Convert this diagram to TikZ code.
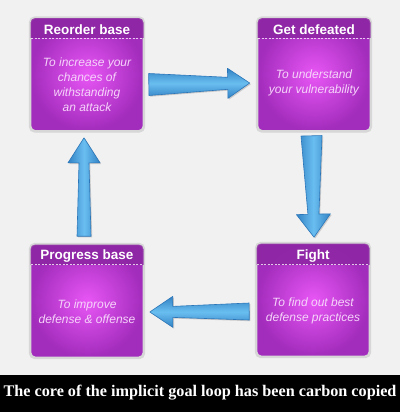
\documentclass[tikz,border=0pt]{standalone}
\usepackage{fontspec}
\setmainfont{Liberation Sans}
\newfontfamily\capfont{Liberation Serif}
\usetikzlibrary{calc,shadows}
\definecolor{bg}{RGB}{241,241,241}
\definecolor{boxin}{RGB}{232,86,245}
\definecolor{boxout}{RGB}{162,44,188}
\definecolor{hdr}{RGB}{140,38,162}
\definecolor{boxline}{RGB}{215,215,215}
\definecolor{bodytxt}{RGB}{246,212,250}
\definecolor{arrlight}{RGB}{105,190,240}
\definecolor{arrmid}{RGB}{70,158,222}
\definecolor{arrdark}{RGB}{42,118,185}
\tikzset{
  box/.style={rectangle, rounded corners=5pt, minimum width=113pt, minimum height=113pt,
    inner color=boxin, outer color=boxout, draw=boxline, line width=1.6pt,
    drop shadow={opacity=0.35, shadow xshift=1.2pt, shadow yshift=-1.2pt}},
  boxtitle/.style={text=white, font=\fontsize{13.5}{15}\selectfont\bfseries, inner sep=0pt},
  boxbody/.style={text=bodytxt, font=\fontsize{12}{15}\selectfont\itshape, align=center, inner sep=0pt},
  sep/.style={draw=white, opacity=0.75, dash pattern=on 2pt off 1.5pt, line width=0.6pt},
  fatarr/.style={draw=arrdark, line width=0.6pt, line join=round,
    drop shadow={opacity=0.35, shadow xshift=1.2pt, shadow yshift=-1.2pt}},
}
% #1 tail, #2 tip, #3 tail half width, #4 neck half width, #5 head half width, #6 head length, #7 shading angle
\newcommand\fatarrow[7]{%
  \coordinate (nk) at ($(#2)!#6!(#1)$);
  \path[fatarr, top color=arrdark!70!arrmid, bottom color=arrdark!70!arrmid, middle color=arrlight, shading angle=#7]
    ($(#1)!#3!90:(#2)$) -- ($(nk)!#4!-90:(#1)$) -- ($(nk)!#5!-90:(#1)$) -- (#2)
    -- ($(nk)!#5!90:(#1)$) -- ($(nk)!#4!90:(#1)$) -- ($(#1)!#3!-90:(#2)$) -- cycle;
}
\newcommand\boxdeco[2]{%
  \begin{scope}
    \clip[rounded corners=5pt] (#1.south west) rectangle (#1.north east);
    \fill[hdr, opacity=0.85] (#1.north west) rectangle ($(#1.north east)+(0,#2)$);
  \end{scope}
  \draw[sep] ($(#1.north west)+(1.5,#2)$) -- ($(#1.north east)+(-1.5,#2)$);
  \draw[boxline, line width=1.6pt, rounded corners=5pt] (#1.south west) rectangle (#1.north east);
}
\begin{document}
\begin{tikzpicture}[x=1pt,y=-1pt]
\useasboundingbox (0,0) rectangle (400,412);
\fill[bg] (0,0) rectangle (400,412);
% boxes
\node[box] (b1) at (87,74.5) {};
\node[box] (b2) at (314,74.5) {};
\node[box] (b3) at (87,301) {};
\node[box] (b4) at (313,300) {};
\boxdeco{b1}{21}
\boxdeco{b2}{21}
\boxdeco{b3}{21}
\boxdeco{b4}{22}
% titles
\node[boxtitle] (t1) at ($(b1.north)+(0,12.5)$) {Reorder base};
\node[boxtitle] (t2) at ($(b2.north)+(0,12.5)$) {Get defeated};
\node[boxtitle] (t3) at ($(b3.north)+(0,12)$) {Progress base};
\node[boxtitle] (t4) at ($(b4.north)+(0,13.5)$) {Fight};
% bodies
\node[boxbody] (d1) at ($(b1.center)+(0,10.5)$) {To increase your\\chances of\\withstanding\\an attack};
\node[boxbody] (d2) at ($(b2.center)+(0,8.5)$) {To understand\\your vulnerability};
\node[boxbody] (d3) at ($(b3.center)+(0,11)$) {To improve\\defense \& offense};
\node[boxbody] (d4) at ($(b4.center)+(0,11)$) {To find out best\\defense practices};
% arrows
\coordinate (a1t) at ($(b1.east)+(4.5,10)$);
\coordinate (a1h) at ($(b2.west)+(-7,8.5)$);
\fatarrow{a1t}{a1h}{11pt}{6pt}{15pt}{22pt}{0}
\coordinate (a2t) at ($(b2.south)+(-2.5,4)$);
\coordinate (a2h) at ($(b4.north)+(1,-5.5)$);
\fatarrow{a2t}{a2h}{10.5pt}{5.5pt}{17pt}{23pt}{90}
\coordinate (a3t) at ($(b4.west)+(-6.5,11.5)$);
\coordinate (a3h) at ($(b3.east)+(5.5,11)$);
\fatarrow{a3t}{a3h}{8.5pt}{5.5pt}{15.5pt}{23pt}{0}
\coordinate (a4t) at ($(b3.north)+(-3,-7.5)$);
\coordinate (a4h) at ($(b1.south)+(-3,6)$);
\fatarrow{a4t}{a4h}{7pt}{5pt}{16pt}{25pt}{90}
% caption
\fill[black] (0,375) rectangle (400,412);
\node[text=white, font=\capfont\fontsize{16.2}{18}\selectfont\bfseries, inner sep=0pt] (cap) at (200,393) {The core of the implicit goal loop has been carbon copied};
\end{tikzpicture}
\end{document}
